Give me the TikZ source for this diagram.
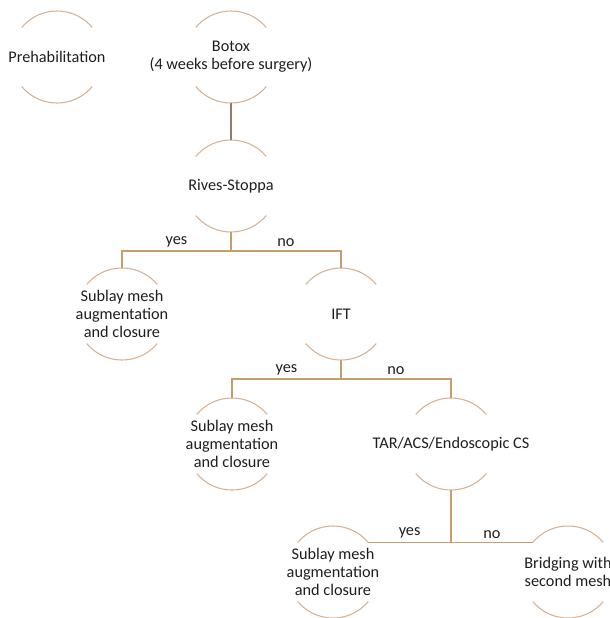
\documentclass[tikz,border=0pt]{standalone}
\usepackage{fontspec}
\setmainfont{Carlito}
\usepackage{tikz}
\usetikzlibrary{calc}

\definecolor{arcbrown}{RGB}{214,176,144}
\definecolor{linkbrown}{RGB}{198,158,108}
\definecolor{stembrown}{RGB}{150,122,104}
\definecolor{textgray}{RGB}{30,30,30}

\tikzset{
  ring/.style={circle, minimum size=69pt, inner sep=0pt, outer sep=0pt,
    draw=arcbrown, line width=0.8pt,
    dash pattern=on 60.21pt off 48.17pt, dash phase=84.30pt},
  txt/.style={align=center, text=textgray, font=\fontsize{12.2pt}{13.6pt}\selectfont},
  answer/.style={above, inner sep=2.5pt, text=textgray, font=\fontsize{12.2pt}{13.6pt}\selectfont},
  link/.style={draw=linkbrown, line width=1pt},
  stem/.style={draw=stembrown, line width=0.9pt}
}

\begin{document}
\begin{tikzpicture}[x=0.75pt, y=-0.75pt]
  \useasboundingbox (0,0) rectangle (610,618);

  \node[ring] at (57,57) (pre) {};
  \node[txt] at (pre) (pretext) {Prehabilitation};
  \node[ring] at (231,57) (botox) {};
  \node[txt] at (botox) (botoxtext) {Botox\\(4 weeks before surgery)};
  \node[ring] at (231,186) (rs) {};
  \node[txt] at (rs) (rstext) {Rives-Stoppa};

  \node[ring] at (122,314) (sub1) {};
  \node[txt] at (sub1) (sub1text) {Sublay mesh\\augmentation\\and closure};
  \node[ring] at (341,314) (ift) {};
  \node[txt] at (ift) (ifttext) {IFT};

  \node[ring] at (232,444) (sub2) {};
  \node[txt] at (sub2) (sub2text) {Sublay mesh\\augmentation\\and closure};
  \node[ring] at (451,444) (tar) {};
  \node[txt] at (tar) (tartext) {TAR/ACS/Endoscopic CS};

  \node[ring] at (333,572) (sub3) {};
  \node[txt] at (sub3) (sub3text) {Sublay mesh\\augmentation\\and closure};
  \node[ring] at (568,572) (bridge) {};
  \node[txt] at (bridge) (bridgetext) {Bridging with\\second mesh};

  \draw[stem] (botox.south) -- (rs.north);

  % first decision
  \draw[link] (rs.south) -- ++(0,19) coordinate (j1);
  \draw[link] (j1) -| node[answer, pos=0.25] (yes1) {yes} (sub1.north);
  \draw[link] (j1) -| node[answer, pos=0.25] (no1) {no} (ift.north);

  % second decision
  \draw[link] (ift.south) -- ++(0,19) coordinate (j2);
  \draw[link] (j2) -| node[answer, pos=0.25] (yes2) {yes} (sub2.north);
  \draw[link] (j2) -| node[answer, pos=0.25] (no2) {no} (tar.north);

  % third decision
  \coordinate (j3) at (tar.south |- sub3.40);
  \draw[link] (tar.south) -- (j3);
  \draw[link] (sub3.40) -- node[answer] (yes3) {yes} (j3)
    -- node[answer] (no3) {no} (bridge.140);
\end{tikzpicture}
\end{document}
